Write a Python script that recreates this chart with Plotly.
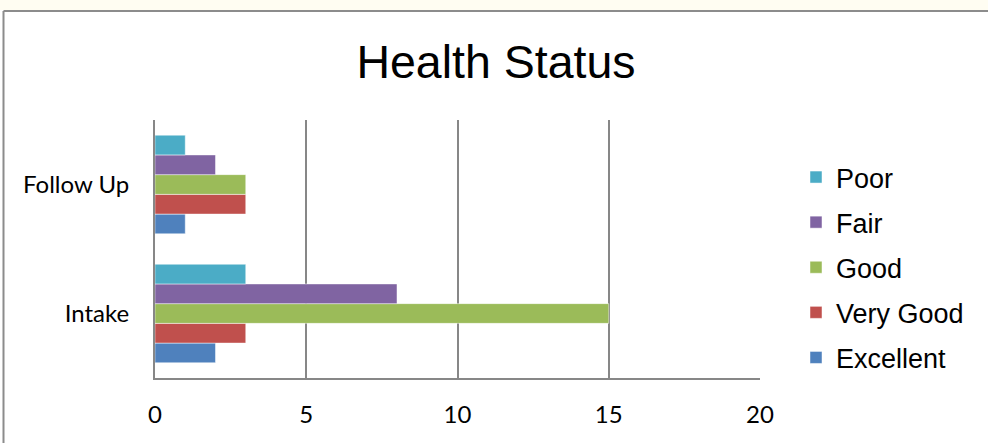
import plotly.graph_objects as go

categories = ["Intake", "Follow Up"]
series_names = ["Excellent", "Very Good", "Good", "Fair", "Poor"]
excellent = [2, 1]
very_good = [3, 3]
good = [15, 3]
fair = [8, 2]
poor = [3, 1]
colors = ["#4F81BD", "#C0504D", "#9BBB59", "#8064A2", "#4BACC6"]
x_ticks = [0, 5, 10, 15, 20]

values = [excellent, very_good, good, fair, poor]

fig = go.Figure()
for i, (name, vals, col) in enumerate(zip(series_names, values, colors)):
    fig.add_trace(go.Bar(
        y=categories, x=vals, name=name, orientation="h",
        marker=dict(color=col, line=dict(color="rgba(255,255,255,0.6)", width=0.8)),
        legendgroup=name, legendrank=1000 - i,
    ))

W, H = 988, 443
L, R, T, B = 155, 228, 120, 65
pw, ph = W - L - R, H - T - B

def px_x(p):
    return (p - L) / pw

def px_y(p):
    return (H - B - p) / ph

shapes = [
    dict(type="rect", xref="paper", yref="paper", x0=px_x(0), x1=px_x(W),
         y0=px_y(10), y1=px_y(0), fillcolor="#FFFDF2", line=dict(width=0), layer="below"),
    dict(type="line", xref="paper", yref="paper", x0=px_x(3.5), x1=px_x(W),
         y0=px_y(11), y1=px_y(11), line=dict(color="#8C8C8C", width=2)),
    dict(type="line", xref="paper", yref="paper", x0=px_x(3.5), x1=px_x(3.5),
         y0=px_y(11), y1=px_y(H), line=dict(color="#8C8C8C", width=2)),
]

fig.update_layout(
    width=W, height=H,
    margin=dict(l=L, r=R, t=T, b=B),
    paper_bgcolor="white", plot_bgcolor="white",
    barmode="group", bargap=0.236, bargroupgap=0,
    title=dict(text="Health Status", x=496 / W, xanchor="center",
               y=1 - 62 / H, yanchor="middle",
               font=dict(family="Liberation Sans, Arial", size=46.5, color="black")),
    xaxis=dict(range=[0, 20], tickvals=x_ticks, showgrid=True, gridcolor="#878787",
               gridwidth=1.5, showline=True, linecolor="#878787", linewidth=2,
               zeroline=False, ticks="", ticklabelstandoff=14,
               tickfont=dict(family="Lato, Carlito, Calibri, sans-serif", size=24, color="black")),
    yaxis=dict(showline=True, linecolor="#878787", linewidth=2, showgrid=False,
               ticks="", ticklabelstandoff=19,
               tickfont=dict(family="Lato, Carlito, Calibri, sans-serif", size=24, color="black")),
    legend=dict(traceorder="grouped", x=(796 - L) / pw, xanchor="left",
                y=px_y(153), yanchor="top", tracegroupgap=7, maxheight=600,
                font=dict(family="Liberation Sans, Arial", size=27, color="black"),
                itemwidth=30, bgcolor="rgba(0,0,0,0)", borderwidth=0),
    shapes=shapes,
    showlegend=True,
)

fig.write_html("out.html", config={"displayModeBar": False},
               post_script="document.body.style.margin='0';document.body.style.overflow='hidden';"
                           "document.documentElement.style.overflow='hidden';")
